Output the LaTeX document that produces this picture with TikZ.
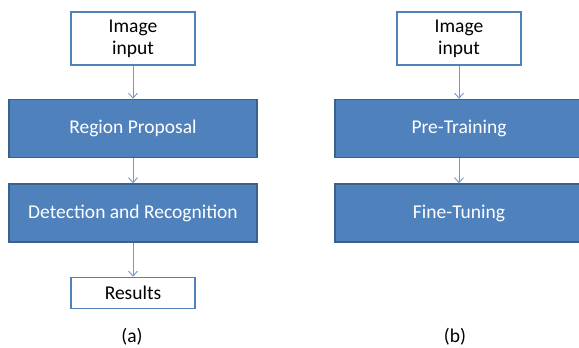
\documentclass[tikz,border=0pt]{standalone}
\usepackage{fontspec}
\setmainfont{Carlito}
\usepackage{xcolor}
\usetikzlibrary{arrows.meta,positioning}
\definecolor{Stage}{HTML}{4F81BD}
\definecolor{StageEdge}{HTML}{3A6190}
\definecolor{Link}{HTML}{6F98CC}

\begin{document}
\begin{tikzpicture}[x=1pt,y=1pt,font=\fontsize{19.5}{22}\selectfont,>={Straight Barb[length=5pt,width=9pt]},
  iobox/.style={draw=Stage,line width=1.5pt,fill=white,align=center,minimum width=124pt,minimum height=53pt,inner sep=2pt},
  stage/.style={draw=StageEdge,line width=1.5pt,fill=Stage,text=white,minimum width=248pt,minimum height=58pt},
  link/.style={->,draw=Link,line width=0.9pt}]
  \useasboundingbox (0,0) rectangle (579,-348);
  % (a) detection pipeline
  \node[iobox] (inA) at (133,-38.5) {Image\\input};
  \node[stage,below=33pt of inA] (propA) {Region Proposal};
  \node[stage,below=25pt of propA] (detA) {Detection and Recognition};
  \node[iobox,minimum height=31pt,below=34pt of detA] (resA) {Results};
  \node (capA) at (132,-337) {(a)};
  \draw[link] (inA) -- (propA);
  \draw[link] (propA) -- (detA);
  \draw[link] (detA) -- (resA);
  % (b) training pipeline
  \node[iobox] (inB) at (459,-38.5) {Image\\input};
  \node[stage,below=33pt of inB] (preB) {Pre-Training};
  \node[stage,below=25pt of preB] (fineB) {Fine-Tuning};
  \node (capB) at (455,-337) {(b)};
  \draw[link] (inB) -- (preB);
  \draw[link] (preB) -- (fineB);
\end{tikzpicture}
\end{document}
